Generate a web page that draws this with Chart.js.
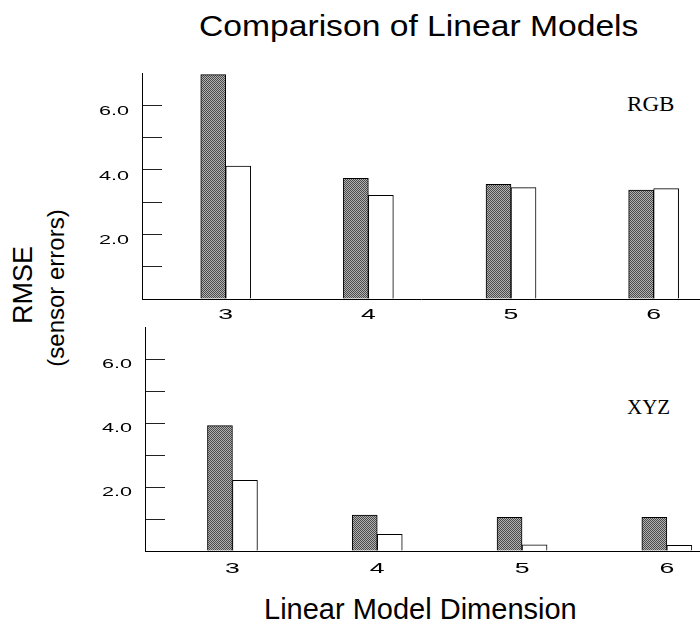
<!DOCTYPE html>
<html><head><meta charset="utf-8">
<script src="https://cdn.jsdelivr.net/npm/chart.js@4"></script>
<style>
html,body{margin:0;padding:0;background:#fff;}
body{width:700px;height:626px;position:relative;overflow:hidden;font-family:"Liberation Sans",Arial,sans-serif;}
.abs{position:absolute;white-space:nowrap;line-height:1;color:#000;}
.rot{transform:translate(-50%,-50%) rotate(-90deg);}
canvas{position:absolute;left:0;}
</style></head><body>
<div class="abs" style="left:199px;top:12px;font-size:29px;transform:scaleX(1.16);transform-origin:0 0;">Comparison of Linear Models</div>
<div class="abs" style="left:264px;top:595px;font-size:29px;">Linear Model Dimension</div>
<div class="abs rot" style="left:23px;top:285px;font-size:27px;">RMSE</div>
<div class="abs rot" style="left:56px;top:288px;font-size:24px;">(sensor errors)</div>
<div class="abs" style="left:627px;top:94px;font-size:21px;font-family:'Liberation Serif',serif;transform:scaleX(1.1);transform-origin:0 0;">RGB</div>
<div class="abs" style="left:627px;top:397px;font-size:21px;font-family:'Liberation Serif',serif;">XYZ</div>
<canvas id="c1" width="700" height="270" style="top:60px"></canvas>
<canvas id="c2" width="700" height="270" style="top:320px"></canvas>
<script>
const dims = [3, 4, 5, 6];
const rgbFilled = [6.95, 3.74, 3.55, 3.37];
const rgbOpen = [4.12, 3.21, 3.45, 3.42];
const xyzFilled = [3.92, 1.12, 1.05, 1.05];
const xyzOpen = [2.21, 0.52, 0.19, 0.18];
const yTickLabels = [2, 4, 6];
const xTickLabels = [3, 4, 5, 6];

function makePattern() {
  const c = document.createElement('canvas'); c.width = 2; c.height = 2;
  const g = c.getContext('2d');
  g.fillStyle = '#b2b2b2'; g.fillRect(0, 0, 2, 2);
  g.fillStyle = '#4a4a4a'; g.fillRect(0, 0, 1, 1); g.fillRect(1, 1, 1, 1);
  return g.createPattern(c, 'repeat');
}
const pattern = makePattern();

const stretchedLabels = {
  id: 'stretchedLabels',
  afterDraw(chart, args, opts) {
    const ctx = chart.ctx;
    const xs = chart.scales.x, ys = chart.scales.y;
    ctx.save();
    ctx.fillStyle = '#000';
    ctx.textBaseline = 'alphabetic';
    ctx.textAlign = 'right';
    ctx.font = '12px "Liberation Sans", Arial, sans-serif';
    opts.yLabels.forEach(v => {
      const py = ys.getPixelForValue(v);
      ctx.save(); ctx.translate(ys.right - 13, py + opts.yOff); ctx.scale(1.8, 1);
      ctx.fillText(v.toFixed(1), 0, 0); ctx.restore();
    });
    ctx.textAlign = 'center';
    ctx.font = '14px "Liberation Sans", Arial, sans-serif';
    opts.xLabels.forEach(v => {
      const px = xs.getPixelForValue(v);
      ctx.save(); ctx.translate(px, xs.top + opts.xOff); ctx.scale(1.9, 1);
      ctx.fillText(String(v), 0, 0); ctx.restore();
    });
    ctx.restore();
  }
};

function build(id, filled, open, cfg) {
  return new Chart(document.getElementById(id), {
    type: 'bar',
    data: { datasets: [
      { label: 'Filled', data: dims.map((d, i) => ({x: d, y: filled[i]})), backgroundColor: pattern,
        borderColor: '#000', borderWidth: 1, barThickness: 25, borderSkipped: 'bottom' },
      { label: 'Open', data: dims.map((d, i) => ({x: d, y: open[i]})), backgroundColor: '#fff',
        borderColor: '#000', borderWidth: 1, barThickness: 25, borderSkipped: 'bottom' }
    ]},
    options: {
      responsive: false, animation: false, events: [],
      layout: { padding: { top: cfg.padTop, left: 0, right: 0, bottom: 0 } },
      plugins: { legend: { display: false }, tooltip: { enabled: false },
        stretchedLabels: { yLabels: yTickLabels, xLabels: xTickLabels, yOff: cfg.yOff, xOff: cfg.xOff } },
      scales: {
        x: { type: 'linear', position: 'bottom', min: cfg.xMin, max: cfg.xMax, offset: false,
          afterFit: s => { s.height = cfg.xHeight; },
          ticks: { display: false },
          grid: { display: true, offset: false, drawOnChartArea: false, drawTicks: false },
          border: { display: true, color: '#000', width: 1 } },
        y: { type: 'linear', min: 0, max: 7,
          afterFit: s => { s.width = cfg.yWidth; },
          ticks: { display: false, stepSize: 1 },
          grid: { drawOnChartArea: false, drawTicks: true, tickLength: -20, lineWidth: 1,
            color: c => (c.tick && (c.tick.value === 0 || c.tick.value === 7)) ? 'rgba(0,0,0,0)' : '#222' },
          border: { display: true, color: '#000', width: 1 } }
      }
    },
    plugins: [stretchedLabels]
  });
}

build('c1', rgbFilled, rgbOpen, { padTop: 13, xHeight: 31, yWidth: 142, xMin: 2.413, xMax: 6.325, yOff: 10, xOff: 20 });
build('c2', xyzFilled, xyzOpen, { padTop: 7, xHeight: 39, yWidth: 145, xMin: 2.396, xMax: 6.229, yOff: 9, xOff: 21.5 });
</script>
</body></html>
